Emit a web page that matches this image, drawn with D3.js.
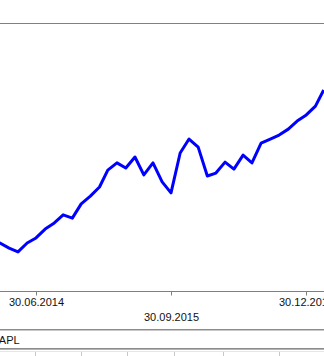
<!DOCTYPE html>
<html>
<head>
<meta charset="utf-8">
<script src="https://cdn.jsdelivr.net/npm/d3@7"></script>
<style>
  html, body { margin: 0; padding: 0; background: #fff; overflow: hidden; }
  svg { display: block; font-family: "Liberation Sans", Arial, sans-serif; }
</style>
</head>
<body>
<svg width="324" height="356"></svg>
<script>
// month-end dates (yyyy-mm-dd)
var dates = [
  "2014-01-31","2014-02-28","2014-03-31","2014-04-30","2014-05-31","2014-06-30",
  "2014-07-31","2014-08-31","2014-09-30","2014-10-31","2014-11-30","2014-12-31",
  "2015-01-31","2015-02-28","2015-03-31","2015-04-30","2015-05-31","2015-06-30",
  "2015-07-31","2015-08-31","2015-09-30","2015-10-31","2015-11-30","2015-12-31",
  "2016-01-31","2016-02-29","2016-03-31","2016-04-30","2016-05-31","2016-06-30",
  "2016-07-31","2016-08-31","2016-09-30","2016-10-31","2016-11-30","2016-12-31",
  "2017-01-31","2017-02-28"
];
// series values
var values = [
  59.8, 57.9, 56.0, 54.6, 57.9, 59.8,
  63.1, 65.4, 68.4, 67.2, 72.5, 75.4,
  78.8, 85.1, 87.8, 85.9, 90.0, 83.3,
  87.8, 80.7, 76.6, 91.5, 96.7, 93.7,
  82.9, 84.0, 88.1, 85.5, 90.7, 87.8,
  95.2, 96.7, 98.2, 100.4, 103.4, 105.7,
  109.0, 115.0
];
// x axis ticks
var tickDates = ["2014-06-30", "2015-09-30", "2016-12-30"];
var seriesName = "AAPL";

var svg = d3.select("svg");
var width = +svg.attr("width");
var parse = d3.utcParse("%Y-%m-%d");

var data = dates.map(function(d, i) { return {date: parse(d), value: values[i]}; });

var plotTop = 23, axisY = 291;

var x = d3.scaleUtc()
  .domain([parse("2014-06-30"), parse("2016-12-30")])
  .range([36, 306]);

var y = d3.scaleLinear()
  .domain([40, 140])
  .range([axisY, plotTop]);

// frame lines
svg.append("line")
  .attr("x1", 0).attr("x2", width)
  .attr("y1", plotTop + 0.5).attr("y2", plotTop + 0.5)
  .attr("stroke", "#808080");

svg.append("defs").append("clipPath").attr("id", "plot")
  .append("rect").attr("x", 0).attr("y", plotTop + 1).attr("width", width).attr("height", axisY - plotTop - 1);

// series line
var line = d3.line()
  .x(function(d) { return x(d.date); })
  .y(function(d) { return y(d.value); });

svg.append("path")
  .datum(data)
  .attr("clip-path", "url(#plot)")
  .attr("fill", "none")
  .attr("stroke", "#0000ff")
  .attr("stroke-width", 3)
  .attr("stroke-linejoin", "round")
  .attr("d", line);

// x axis
var axis = svg.append("g")
  .attr("transform", "translate(0," + (axisY + 0.5) + ")")
  .call(d3.axisBottom(x)
    .tickValues(tickDates.map(parse))
    .tickFormat(d3.utcFormat("%d.%m.%Y"))
    .tickSizeOuter(0)
    .tickSize(4));

axis.select(".domain").attr("stroke", "#808080").attr("d", "M0,0H" + width);
axis.selectAll(".tick line").attr("stroke", "#808080");
axis.selectAll(".tick text")
  .attr("fill", "#111")
  .style("font-size", "11px")
  .style("font-family", "'Liberation Sans', Arial, sans-serif")
  .attr("y", function(d, i) { return i % 2 ? 22 : 7; });

// legend strip
svg.append("line").attr("x1", 0).attr("x2", width).attr("y1", 329.5).attr("y2", 329.5).attr("stroke", "#8c8c8c");
svg.append("line").attr("x1", 0).attr("x2", width).attr("y1", 330.5).attr("y2", 330.5).attr("stroke", "#c8c8c8");
svg.append("text")
  .attr("x", -8.5).attr("y", 344)
  .attr("fill", "#111")
  .style("font-size", "11px")
  .text(seriesName);
svg.append("line").attr("x1", 0).attr("x2", width).attr("y1", 348.5).attr("y2", 348.5).attr("stroke", "#8c8c8c");
svg.append("line").attr("x1", 0).attr("x2", width).attr("y1", 349.5).attr("y2", 349.5).attr("stroke", "#b4b4b4");
svg.append("line").attr("x1", 0).attr("x2", width).attr("y1", 351.5).attr("y2", 351.5).attr("stroke", "#e6e6e6");

// table column separators below
var columnEdges = [35, 81, 127, 174, 223, 279];
svg.selectAll(".col")
  .data(columnEdges)
  .enter().append("line")
  .attr("x1", function(d) { return d + 0.5; })
  .attr("x2", function(d) { return d + 0.5; })
  .attr("y1", 352).attr("y2", 356)
  .attr("stroke", "#c8c8c8");
</script>
</body>
</html>
